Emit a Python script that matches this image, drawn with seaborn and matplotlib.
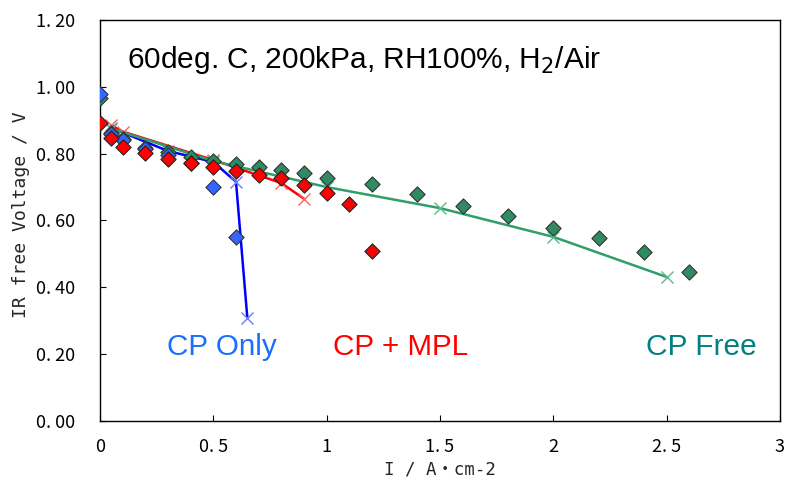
import numpy as np
import pandas as pd
import matplotlib
matplotlib.use("Agg")
import matplotlib.pyplot as plt
import seaborn as sns

# measured points (diamonds)
free_i = [0, 0.05, 0.1, 0.2, 0.3, 0.4, 0.5, 0.6, 0.7, 0.8, 0.9, 1.0, 1.2, 1.4, 1.6, 1.8, 2.0, 2.2, 2.4, 2.6]
free_v = [0.967, 0.862, 0.844, 0.817, 0.805, 0.790, 0.778, 0.769, 0.760, 0.751, 0.742, 0.727, 0.710, 0.680, 0.644, 0.614, 0.578, 0.548, 0.506, 0.446]

mpl_i = [0, 0.05, 0.1, 0.2, 0.3, 0.4, 0.5, 0.6, 0.7, 0.8, 0.9, 1.0, 1.1, 1.2]
mpl_v = [0.892, 0.847, 0.820, 0.802, 0.784, 0.773, 0.760, 0.749, 0.737, 0.728, 0.707, 0.683, 0.650, 0.509]

only_i = [0, 0.05, 0.1, 0.2, 0.3, 0.4, 0.5, 0.6]
only_v = [0.979, 0.858, 0.840, 0.815, 0.795, 0.772, 0.700, 0.551]

# model curves (x markers)
only_fit_i = [0.05, 0.3, 0.5, 0.6, 0.65]
only_fit_v = [0.877, 0.808, 0.775, 0.716, 0.308]

mpl_fit_i = [0.05, 0.1, 0.5, 0.8, 0.9]
mpl_fit_v = [0.885, 0.866, 0.781, 0.712, 0.665]

free_fit_i = [0.05, 0.5, 1.0, 1.5, 2.0, 2.5]
free_fit_v = [0.875, 0.778, 0.700, 0.637, 0.551, 0.431]

sns.set_style("ticks")
plt.rcParams['font.family'] = ['Liberation Sans', 'DejaVu Sans']

fig = plt.figure(figsize=(7.85, 4.82), dpi=100)
ax = fig.add_axes([0.1274, 0.1266, 0.8662, 0.8319])

blue_line = "#0000FF"
blue_pt = "#3366FF"
red = "#FF0000"
green_pt = "#2E8B62"
green_line = "#2E9E6B"

sns.lineplot(x=only_fit_i, y=only_fit_v, ax=ax, color=blue_line, lw=1.8, marker='x',
             markersize=9, mec="#6F7BFF", mew=1.0, sort=False, estimator=None)
sns.lineplot(x=mpl_fit_i, y=mpl_fit_v, ax=ax, color=red, lw=1.8, marker='x',
             markersize=9, mec="#FF6060", mew=1.0, sort=False, estimator=None)
sns.lineplot(x=free_fit_i, y=free_fit_v, ax=ax, color=green_line, lw=1.8, marker='x',
             markersize=9, mec="#5DB98C", mew=1.0, sort=False, estimator=None)

sns.scatterplot(x=free_i, y=free_v, ax=ax, marker='D', s=60, color=green_pt,
                edgecolor="#333333", linewidth=0.8, zorder=3)
sns.scatterplot(x=only_i, y=only_v, ax=ax, marker='D', s=60, color=blue_pt,
                edgecolor="#333333", linewidth=0.8, zorder=3)
sns.scatterplot(x=mpl_i, y=mpl_v, ax=ax, marker='D', s=60, color=red,
                edgecolor="#222222", linewidth=0.8, zorder=3)

ax.set_xlim(0, 3)
ax.set_ylim(0, 1.2)
xt = [0, 0.5, 1, 1.5, 2, 2.5, 3]
yt = [0, 0.2, 0.4, 0.6, 0.8, 1.0, 1.2]
ax.set_xticks(xt)
ax.set_yticks(yt)
jp = ['Noto Sans CJK JP', 'DejaVu Sans']
mono = ['DejaVu Sans Mono', 'Noto Sans CJK JP']
ax.set_xticklabels(["0", "0. 5", "1", "1. 5", "2", "2. 5", "3"], family=jp, fontsize=13)
ax.set_yticklabels([("%.2f" % v).replace(".", ". ") for v in yt], family=jp, fontsize=13)
ax.tick_params(direction='in', length=4, width=0.8, colors='black')
ax.tick_params(axis='y', pad=18)
ax.tick_params(axis='x', pad=12)
for s in ax.spines.values():
    s.set_color('black')
    s.set_linewidth(1.0)

ax.set_xlabel("I / A・cm-2", family=mono, fontsize=12.5)
ax.set_ylabel("IR free Voltage / V", family=mono, fontsize=13)
ax.xaxis.set_label_coords(0.5, -0.098)
ax.yaxis.set_label_coords(-0.103, 0.514)

ax.text(0.04, 0.90, "60deg. C, 200kPa, RH100%, H$_2$/Air", transform=ax.transAxes,
        fontsize=21.5, va='center', ha='left', color='black')
ax.text(0.099, 0.185, "CP Only", transform=ax.transAxes, fontsize=21.3,
        va='center', color="#1A6FFF")
ax.text(0.343, 0.185, "CP + MPL", transform=ax.transAxes, fontsize=21.3,
        va='center', color="#FF0000")
ax.text(0.803, 0.185, "CP Free", transform=ax.transAxes, fontsize=21.5,
        va='center', color="#008080")

plt.savefig("out.png", dpi=100)
plt.close()
